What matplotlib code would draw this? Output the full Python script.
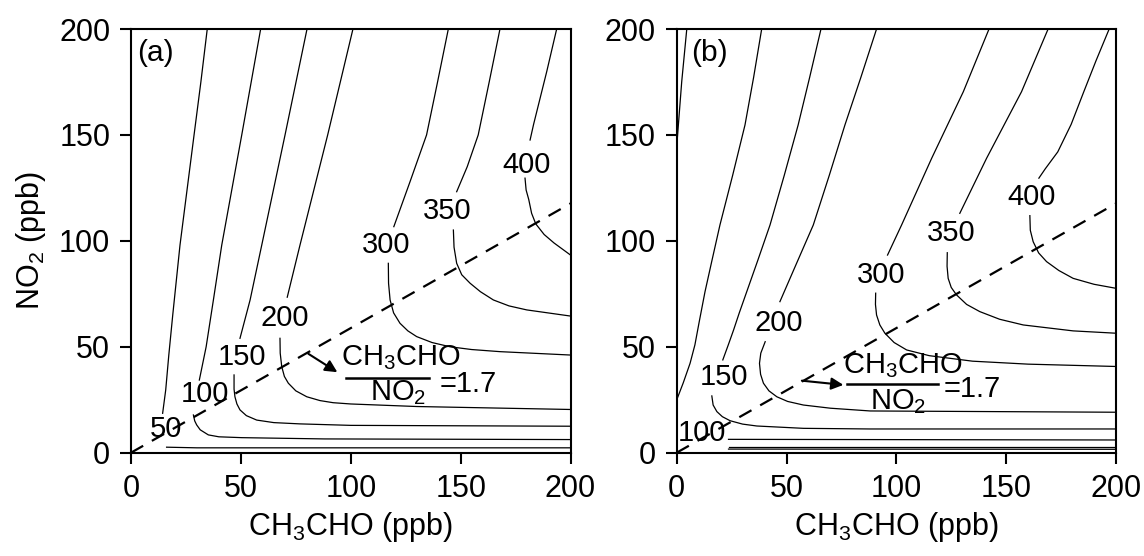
import matplotlib
matplotlib.use("Agg")
import matplotlib.pyplot as plt

plt.rcParams['font.family'] = ['Liberation Sans', 'DejaVu Sans']
plt.rcParams['mathtext.fontset'] = 'custom'
plt.rcParams['mathtext.rm'] = 'Liberation Sans'
plt.rcParams['mathtext.it'] = 'Liberation Sans:italic'
plt.rcParams['mathtext.default'] = 'regular'

# ratio of the dashed line, CH3CHO / NO2
ratio = 1.7
ratio_x = [0, 200]

# ---- panel (a): contour segments (CH3CHO, NO2) ----
a_50 = [[(34.7, 200), (31.8, 175), (28.7, 150), (25.5, 124), (22.3, 98), (19.0, 65),
         (17.2, 46), (15.8, 29.6), (14.4, 18.6)],
        [(16.2, 2.6), (30, 2.3), (200, 2.3)]]
a_100 = [[(59.0, 200), (50.4, 150), (41.3, 98), (37.5, 72.1), (34.2, 50), (31.1, 34.3)],
         [(28.4, 17.8), (29.0, 15.0), (29.9, 13.1), (31.5, 10.8), (35.2, 8.4), (40, 7.5),
          (50.4, 7.1), (88, 6.5), (200, 6.2)]]
a_150 = [[(80.1, 200), (70.1, 150), (59.5, 98), (54.2, 72.1), (49.6, 54.0)],
         [(46.9, 36.7), (46.9, 30), (47.3, 26.4), (48.2, 23), (49.6, 20.2), (52.5, 17.5),
          (57.2, 15.4), (65, 14.2), (76.9, 13.6), (100, 12.9), (200, 12.5)]]
a_200 = [[(101.0, 200), (89.5, 150), (76.9, 98), (71.1, 73.4)],
         [(67.8, 54.0), (67.9, 47), (68.6, 40.6), (69.8, 36), (71.6, 32.8), (75, 29.2),
          (80, 26.4), (86, 24.6), (92, 23.6), (100, 23.0), (130, 21.8), (200, 20.4)]]
a_300 = [[(144.4, 200), (139.5, 175), (134.5, 150), (127, 128), (119.6, 106.7)],
         [(117.1, 89.4), (117.2, 80), (117.9, 72.1), (119.5, 66), (122.4, 61.1), (126, 57.5),
          (130, 54.8), (137, 52), (145.2, 50), (155, 48.7), (167.9, 47.7), (200, 46.1)]]
a_350 = [[(167.9, 200), (163, 175), (158, 150), (153, 135), (148.2, 123.2)],
         [(146.7, 105.1), (147, 97), (148.2, 89.4), (150.5, 84), (154.3, 80), (159, 76),
          (164.9, 72.1), (172, 69.3), (180.1, 67.4), (200, 64.5)]]
a_400 = [[(193.7, 200), (189.2, 180), (185.6, 165), (183.2, 155), (181.6, 147.6)],
         [(179.3, 129.6), (179.8, 124), (181.0, 119.5), (182.3, 113), (184.2, 108),
          (188, 103), (192.5, 99), (200, 93.3)]]
a_levels = [50, 100, 150, 200, 300, 350, 400]
a_label_x = [15.8, 33.7, 50.7, 70.1, 116.0, 144.0, 180.1]
a_label_y = [11.2, 27.7, 45.3, 63.5, 98.1, 114.2, 135.8]

# ---- panel (b) ----
b_edge = [[(4.6, 200), (2.3, 175.2), (0.3, 148.4)]]
b_second = [[(38.7, 200), (35, 177), (31.1, 154.7), (25.5, 131), (19.7, 107.5), (15.9, 90),
             (12.9, 76), (10.3, 62), (8.3, 50.9), (6.1, 42.2), (3, 33), (0, 24.9)]]
b_100 = [[(23.6, 6.3), (200, 6.0)], [(23.6, 2.8), (200, 2.8)], [(23.6, 1.7), (200, 1.6)]]
b_150 = [[(65.7, 200), (60.5, 177), (55.3, 154.7), (49, 131), (42.5, 107.5), (37, 91),
          (31.9, 76), (28.5, 66), (25.9, 57.9), (23.5, 50.9), (21.0, 43.8)],
         [(16.0, 26.8), (16.6, 22.5), (18.3, 19.4), (20.8, 17), (24.3, 15.1), (30, 13.5),
          (36.5, 12.6), (57.7, 11.5), (88, 11.2), (200, 11.2)]]
b_200 = [[(91.0, 200), (83.8, 177), (76.6, 154.7), (69.5, 131), (62.2, 107.5), (54, 88),
          (47.0, 71.3)],
         [(40.3, 52.4), (38.3, 47), (37.7, 42.2), (38.2, 37), (39.5, 32.8), (42, 29.2),
          (45.6, 26.4), (50.5, 24.2), (57.7, 22.5), (70, 21), (88.1, 19.7), (200, 19.1)]]
b_300 = [[(142.2, 200), (130.5, 170.4), (116.1, 139), (102.4, 107.5), (96.0, 93.3)],
         [(90.6, 75.3), (90.5, 70), (91.0, 65.0), (92.5, 60.3), (94.8, 56.4), (99, 52),
          (104.7, 48.5), (115, 45.8), (134.7, 43.2), (160, 41.8), (200, 40.7)]]
b_350 = [[(169.1, 200), (157.0, 170.4), (141.1, 139), (128.9, 113)],
         [(123.2, 94.4), (123.1, 88), (123.6, 82.3), (125, 78), (127.4, 74.5), (132, 70),
          (138, 66.6), (147, 63), (157.8, 60.3), (180.5, 57.5), (200, 56.4)]]
b_400 = [[(196.9, 200), (190.9, 185), (185.2, 170), (179.6, 155), (173.5, 142),
          (167.8, 134), (164.9, 129.6)],
         [(160.8, 111.9), (161, 105), (162.3, 99.6), (164.8, 94.3), (168.4, 90.2), (174, 86),
          (180.5, 82.3), (190, 79.5), (200, 77.6)]]
b_levels = [100, 150, 200, 300, 350, 400]
b_label_x = [11.5, 21.4, 46.6, 92.9, 124.8, 161.7]
b_label_y = [9.5, 35.5, 61.1, 83.9, 103.6, 120.5]

ticks = [0, 50, 100, 150, 200]


def draw_panel(ax, contours, levels, lx, ly, tag, tag_x, arrow, frac):
    for segs in contours:
        for seg in segs:
            xs = [p[0] for p in seg]
            ys = [p[1] for p in seg]
            ax.plot(xs, ys, color='k', lw=0.9)
    for lev, x, y in zip(levels, lx, ly):
        ax.text(x, y, str(lev), ha='center', va='center', fontsize=21)

    ax.plot(ratio_x, [v / ratio for v in ratio_x], color='k', lw=1.6,
            dashes=(6.3, 4.5))

    ax.annotate('', xy=arrow[1], xytext=arrow[0],
                arrowprops=dict(arrowstyle='-|>', color='k', lw=1.5,
                                mutation_scale=18, shrinkA=0, shrinkB=0))
    top_x, top_y, bar_x0, bar_x1, bar_y, bot_x, bot_y, eq_x, eq_y = frac
    ax.text(top_x, top_y, 'CH$_3$CHO', ha='center', va='baseline', fontsize=21)
    ax.plot([bar_x0, bar_x1], [bar_y, bar_y], color='k', lw=1.8)
    ax.text(bot_x, bot_y, 'NO$_2$', ha='center', va='baseline', fontsize=21)
    ax.text(eq_x, eq_y, '=1.7', ha='left', va='baseline', fontsize=21)

    ax.text(tag_x, 0.977, tag, transform=ax.transAxes, ha='left', va='top',
            fontsize=21.5)

    ax.set_xlim(0, 200)
    ax.set_ylim(0, 200)
    ax.set_xticks(ticks)
    ax.set_yticks(ticks)
    ax.tick_params(direction='out', length=8, width=1.5, labelsize=22, pad=7)
    for s in ax.spines.values():
        s.set_linewidth(1.5)
    ax.set_xlabel('CH$_3$CHO (ppb)', fontsize=22, labelpad=5)


fig = plt.figure(figsize=(11.44, 5.56), dpi=100)
ax_a = fig.add_axes([0.1145, 0.1858, 0.3842, 0.762])
ax_b = fig.add_axes([0.5915, 0.1858, 0.3840, 0.762])

draw_panel(ax_a, [a_50, a_100, a_150, a_200, a_300, a_350, a_400],
           a_levels, a_label_x, a_label_y, '(a)', 0.014,
           ((80.7, 46.7), (93.9, 38.0)),
           (122.6, 41.4, 97.8, 135.7, 35.1, 121.7, 24.9, 140.6, 28.8))
draw_panel(ax_b, [b_edge, b_second, b_100, b_150, b_200, b_300, b_350, b_400],
           b_levels, b_label_x, b_label_y, '(b)', 0.032,
           ((57.0, 34.0), (75.9, 32.0)),
           (103.1, 37.4, 77.6, 118.9, 32.5, 101.0, 20.5, 121.4, 26.4))

ax_a.set_ylabel('NO$_2$ (ppb)', fontsize=22, labelpad=8)

fig.savefig('out.png', dpi=100)
